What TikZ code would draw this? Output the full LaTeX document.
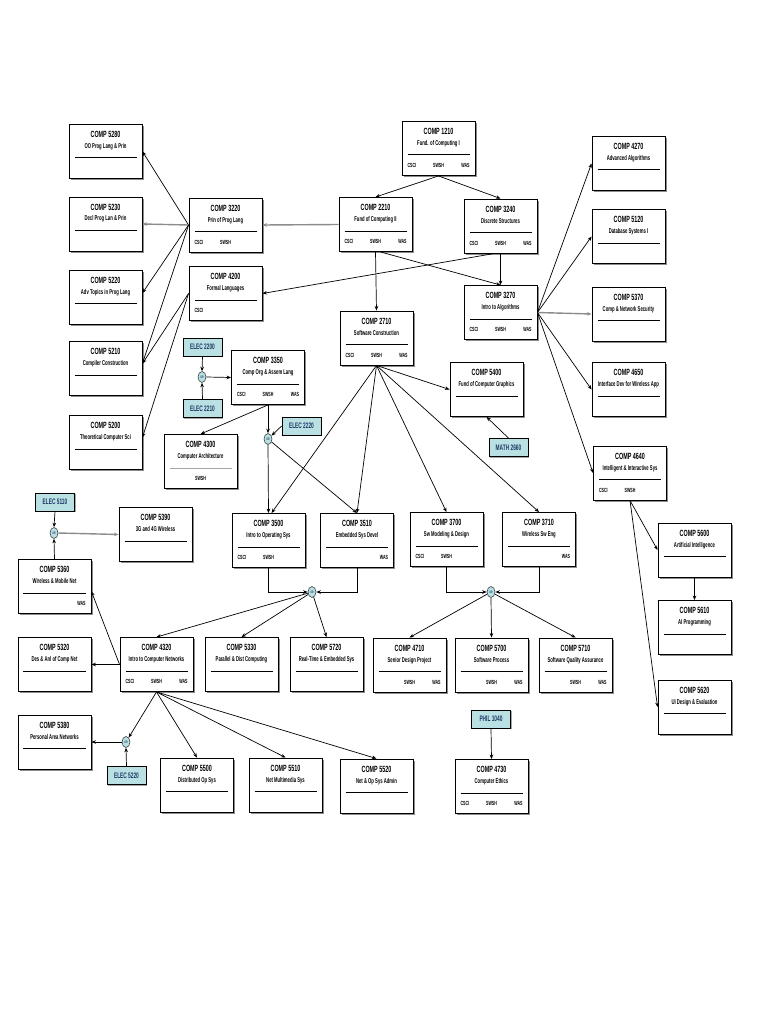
\documentclass[tikz,border=0pt]{standalone}
\usepackage{fontspec}
\usetikzlibrary{arrows.meta,shapes.geometric,shadows}
\newfontfamily\cond[FakeStretch=0.6]{Liberation Sans}
\definecolor{aqua}{HTML}{B9E1E4}
\definecolor{navy}{HTML}{1F3864}
\newcommand{\ttl}{\cond\bfseries\fontsize{9}{9}\selectfont}
\newcommand{\sbt}{\cond\bfseries\fontsize{7}{7}\selectfont}
\newcommand{\sct}{\cond\bfseries\fontsize{6}{6}\selectfont}
\newcommand{\crs}[6][black]{\vbox to 54pt{\offinterlineskip\hsize=73pt
 \kern2.2pt
 \hbox to\hsize{\hss\rule[-2pt]{0pt}{13pt}\ttl #2\hss}
 \hbox to\hsize{\hss\rule[-2pt]{0pt}{10.8pt}\sbt #3\hss}
 \kern7pt
 \hbox to\hsize{\hss{\color{#1}\rule{62pt}{1pt}}\hss}
 \hbox to\hsize{\hss\rule[-2pt]{0pt}{14.2pt}\sct\makebox[62pt]{\rlap{#4}\hfill#5\hfill\llap{#6}}\hss}
 \vss}}

\begin{document}
\begin{tikzpicture}[x=1pt,y=-1pt,
 course/.style={draw,fill=white,inner sep=0pt,line width=0.9pt,
  drop shadow={shadow xshift=1.6pt,shadow yshift=-1.6pt,fill=black!45,opacity=1}},
 elec/.style={draw,fill=aqua,text=navy,font=\cond\bfseries\fontsize{8}{8}\selectfont,
  minimum width=39pt,minimum height=18pt,inner sep=1pt,line width=0.8pt,
  drop shadow={shadow xshift=1pt,shadow yshift=-1pt,fill=black!35,opacity=1}},
 gate/.style={ellipse,draw=black!75,fill=aqua,text=navy,minimum width=8pt,minimum height=11pt,
  inner sep=0pt,line width=0.6pt,font=\cond\bfseries\fontsize{3.5}{3.5}\selectfont},
 arr/.style={-{Stealth[length=4.5pt,width=3.6pt]},line width=0.7pt},
 garr/.style={arr,draw=black!45,line width=1.4pt}]
\useasboundingbox (0,0) rectangle (768,1024);
\node[course] (c5280) at (105.5,151.5) {\crs{COMP 5280}{OO Prog Lang \& Prin}{}{}{}};
\node[course] (c5230) at (105.5,224) {\crs{COMP 5230}{Decl Prog Lan \& Prin}{}{}{}};
\node[course] (c5220) at (105.5,297) {\crs{COMP 5220}{Adv Topics in Prog Lang}{}{}{}};
\node[course] (c5210) at (105.5,368.5) {\crs{COMP 5210}{Compiler Construction}{}{}{}};
\node[course] (c5200) at (105.5,442.5) {\crs{COMP 5200}{Theoretical Computer Sci}{}{}{}};
\node[course] (c3220) at (225.5,225) {\crs{COMP 3220}{Prin of Prog Lang}{CSCI}{SWSH}{}};
\node[course] (c4200) at (225.5,293.5) {\crs{COMP 4200}{Formal Languages}{CSCI}{}{}};
\node[course] (c1210) at (438.5,148.5) {\crs{COMP 1210}{Fund. of Computing I}{CSCI}{SWSH}{WAS}};
\node[course] (c2210) at (375.5,224.5) {\crs{COMP 2210}{Fund of Computing II}{CSCI}{SWSH}{WAS}};
\node[course] (c3240) at (500.5,226) {\crs{COMP 3240}{Discrete Structures}{CSCI}{SWSH}{WAS}};
\node[course] (c3270) at (500.5,312.5) {\crs{COMP 3270}{Intro to Algorithms}{CSCI}{SWSH}{WAS}};
\node[course] (c2710) at (376.5,338) {\crs{COMP 2710}{Software Construction}{CSCI}{SWSH}{WAS}};
\node[course] (c4270) at (628.5,163.5) {\crs{COMP 4270}{Advanced Algorithms}{}{}{}};
\node[course] (c5120) at (628.5,236.5) {\crs{COMP 5120}{Database Systems I}{}{}{}};
\node[course] (c5370) at (628.5,314) {\crs{COMP 5370}{Comp \& Network Security}{}{}{}};
\node[course] (c4650) at (628.5,389.5) {\crs{COMP 4650}{Interface Dev for Wireless App}{}{}{}};
\node[course] (c4640) at (630,473) {\crs{COMP 4640}{Intelligent \& Interactive Sys}{CSCI}{SWSH}{}};
\node[course] (c3350) at (268,377.5) {\crs{COMP 3350}{Comp Org \& Assem Lang}{CSCI}{SWSH}{WAS}};
\node[course] (c4300) at (200.5,461.5) {\crs[black!35]{COMP 4300}{Computer Architecture}{}{SWSH}{}};
\node[course] (c5400) at (486.5,389.5) {\crs{COMP 5400}{Fund of Computer Graphics}{}{}{}};
\node[course] (c5390) at (155.5,534.5) {\crs{COMP 5390}{3G and 4G Wireless}{}{}{}};
\node[course] (c5360) at (54.5,586.5) {\crs{COMP 5360}{Wireless \& Mobile Net}{}{}{WAS}};
\node[course] (c3500) at (268.5,540.5) {\crs{COMP 3500}{Intro to Operating Sys}{CSCI}{SWSH}{}};
\node[course] (c3510) at (357,540.5) {\crs{COMP 3510}{Embedded Sys Devel}{}{}{WAS}};
\node[course] (c3700) at (446.5,539.5) {\crs{COMP 3700}{Sw Modeling \& Design}{CSCI}{SWSH}{}};
\node[course] (c3710) at (539,539.5) {\crs{COMP 3710}{Wireless Sw Eng}{}{}{WAS}};
\node[course] (c5600) at (694.5,550) {\crs{COMP 5600}{Artificial Intelligence}{}{}{}};
\node[course] (c5610) at (694.5,627.5) {\crs{COMP 5610}{AI Programming}{}{}{}};
\node[course] (c5620) at (694.5,707) {\crs{COMP 5620}{UI Design \& Evaluation}{}{}{}};
\node[course] (c5320) at (54.5,664.5) {\crs{COMP 5320}{Des \& Anl of Comp Net}{}{}{}};
\node[course] (c4320) at (156.5,664.5) {\crs{COMP 4320}{Intro to Computer Networks}{CSCI}{SWSH}{WAS}};
\node[course] (c5330) at (241.5,664.5) {\crs{COMP 5330}{Parallel \& Dist Computing}{}{}{}};
\node[course] (c5720) at (326.5,664.5) {\crs{COMP 5720}{Real-Time \& Embedded Sys}{}{}{}};
\node[course] (c4710) at (409.5,665) {\crs{COMP 4710}{Senior Design Project}{}{SWSH}{WAS}};
\node[course] (c5700) at (491.5,665) {\crs{COMP 5700}{Software Process}{}{SWSH}{WAS}};
\node[course] (c5710) at (575.5,665) {\crs{COMP 5710}{Software Quality Assurance}{}{SWSH}{WAS}};
\node[course] (c5380) at (54.5,742) {\crs{COMP 5380}{Personal Area Networks}{}{}{}};
\node[course] (c5500) at (197,785) {\crs{COMP 5500}{Distributed Op Sys}{}{}{}};
\node[course] (c5510) at (285.5,785) {\crs{COMP 5510}{Net Multimedia Sys}{}{}{}};
\node[course] (c5520) at (376.5,786) {\crs{COMP 5520}{Net \& Op Sys Admin}{}{}{}};
\node[course] (c4730) at (491.5,786.5) {\crs{COMP 4730}{Computer Ethics}{CSCI}{SWSH}{WAS}};
\node[elec] (e2200) at (202.5,347) {ELEC 2200};
\node[elec] (e2210) at (202.5,408.5) {ELEC 2210};
\node[elec] (e2220) at (301.5,426) {ELEC 2220};
\node[elec] (m2660) at (508.5,447.5) {MATH 2660};
\node[elec] (e5110) at (55,502) {ELEC 5110};
\node[elec] (e5220) at (126.5,775.5) {ELEC 5220};
\node[elec] (p1040) at (491,719) {PHIL 1040};
\node[gate] (or1) at (202,377) {OR};
\node[gate] (or2) at (268,439) {OR};
\node[gate] (or3) at (54,533) {OR};
\node[gate] (or4) at (312,592) {OR};
\node[gate] (or5) at (491,592) {OR};
\node[gate] (or6) at (126,742) {OR};
\draw[arr] (c1210.south) -- (c2210.north);
\draw[arr] (c1210.south) -- (c3240.north);
\draw[garr] (c2210.west) -- (c3220.east);
\draw[arr] (c2210.south) -- (c2710.north);
\draw[arr] ([xshift=5pt]c2210.south) -- (c3270.north);
\draw[arr] (c3240.south) -- (c3270.north);
\draw[arr] ([xshift=-6pt]c3240.south) -- (c4200.east);
\draw[arr] (c3220.west) -- (c5280.east);
\draw[garr] (c3220.west) -- (c5230.east);
\draw[arr] (c3220.west) -- ([yshift=4pt]c5220.east);
\draw[arr] (c3220.west) -- ([yshift=5pt]c5210.east);
\draw[arr] (c4200.west) -- ([yshift=5pt]c5210.east);
\draw[arr] (c4200.west) -- ([yshift=5pt]c5200.east);
\draw[arr] (c3270.east) -- (c4270.west);
\draw[arr] (c3270.east) -- (c5120.west);
\draw[garr] (c3270.east) -- (c5370.west);
\draw[arr] (c3270.east) -- (c4650.west);
\draw[arr] (c3270.east) -- (c4640.west);
\draw[arr] (c2710.south) -- (c5400.west);
\draw[arr] (c2710.south) -- ([xshift=3pt]c3500.north);
\draw[arr] (c2710.south) -- (c3510.north);
\draw[arr] (c2710.south) -- (c3700.north);
\draw[arr] (c2710.south) -- (c3710.north);
\draw[arr] (m2660.north) -- (c5400.south);
\draw[arr] (e2200.south) -- (or1.north);
\draw[arr] (e2210.north) -- (or1.south);
\draw[arr] (or1.east) -- (c3350.west);
\draw[arr] (c3350.south) -- (c4300.north);
\draw[arr] (c3350.south) -- (or2.north);
\draw[arr] (e2220.west) -- (or2);
\draw[arr] (or2.south) -- (c3500.north);
\draw[arr] (or2) -- (c3510.north);
\draw[arr] (c3500.south) |- (or4.west);
\draw[arr] (c3510.south) |- (or4.east);
\draw[arr] (or4) -- (c4320.north);
\draw[arr] (or4) -- (c5330.north);
\draw[arr] (or4) -- (c5720.north);
\draw[arr] (c3700.south) |- (or5.west);
\draw[arr] (c3710.south) |- (or5.east);
\draw[arr] (or5) -- (c4710.north);
\draw[arr] (or5.south) -- (c5700.north);
\draw[arr] (or5) -- (c5710.north);
\draw[arr] (c4640.south) -- (c5600.west);
\draw[arr] (c4640.south) -- (c5620.west);
\draw[arr] (c5600.south) -- (c5610.north);
\draw[arr] (e5110.south) -- (or3.north);
\draw[arr] (c5360.north) -- (or3.south);
\draw[garr] (or3.east) -- (c5390.west);
\draw[arr] (c4320.west) -- (c5320.east);
\draw[arr] (c4320.west) -- ([yshift=-5pt]c5360.east);
\draw[arr] (c4320.south) -- (or6);
\draw[arr] (c4320.south) -- (c5500.north);
\draw[arr] (c4320.south) -- (c5510.north);
\draw[arr] (c4320.south) -- (c5520.north);
\draw[arr] (e5220.north) -- (or6.south);
\draw[arr] (or6.west) -- (c5380.east);
\draw[arr] (p1040.south) -- (c4730.north);
\end{tikzpicture}
\end{document}
